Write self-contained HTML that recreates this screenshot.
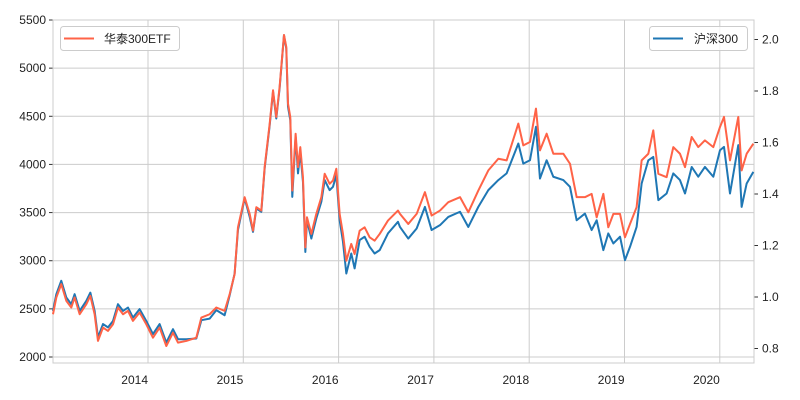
<!DOCTYPE html>
<html><head><meta charset="utf-8"><style>
body{margin:0;background:#fff;width:800px;height:400px;overflow:hidden}
svg{display:block;font-family:"Liberation Sans","Noto Sans CJK SC",sans-serif}
</style></head><body>
<svg id="c" width="800" height="400"></svg>
<script>
const dates=[2013.003,2013.038,2013.090,2013.143,2013.195,2013.230,2013.283,2013.353,2013.395,2013.440,2013.475,2013.528,2013.580,2013.633,2013.685,2013.738,2013.790,2013.842,2013.912,2013.982,2014.052,2014.122,2014.192,2014.262,2014.315,2014.402,2014.507,2014.560,2014.647,2014.717,2014.804,2014.857,2014.909,2014.944,2015.014,2015.067,2015.102,2015.137,2015.189,2015.224,2015.277,2015.312,2015.346,2015.381,2015.427,2015.451,2015.469,2015.493,2015.514,2015.549,2015.574,2015.598,2015.626,2015.651,2015.668,2015.714,2015.766,2015.819,2015.854,2015.906,2015.941,2015.976,2016.011,2016.046,2016.081,2016.133,2016.168,2016.221,2016.273,2016.326,2016.378,2016.431,2016.518,2016.623,
2016.644,2016.731,2016.819,2016.906,2016.976,2017.064,2017.151,2017.274,2017.361,2017.466,2017.571,2017.676,2017.763,2017.886,2017.938,2018.008,2018.071,2018.113,2018.183,2018.253,2018.358,2018.428,2018.498,2018.585,2018.655,2018.708,2018.778,2018.830,2018.883,2018.953,2019.005,2019.058,2019.127,2019.180,2019.250,2019.302,2019.355,2019.442,2019.512,2019.582,2019.635,2019.705,2019.774,2019.844,2019.932,2020.002,2020.044,2020.107,2020.194,2020.229,2020.282,2020.352];
const etf=[2444,2618,2757,2583,2514,2618,2444,2549,2635,2444,2167,2306,2271,2340,2514,2444,2479,2375,2462,2340,2201,2306,2114,2253,2149,2167,2201,2410,2444,2514,2479,2653,2861,3347,3660,3486,3312,3556,3521,3972,4424,4771,4493,4806,5344,5222,4632,4493,3729,4319,3972,4180,3868,3139,3451,3278,3486,3660,3903,3799,3833,3955,3486,3278,3000,3174,3069,3312,3347,3243,3208,3278,3417,3521,
3486,3382,3486,3712,3469,3521,3608,3660,3503,3729,3938,4059,4042,4424,4198,4233,4580,4146,4319,4111,4111,4007,3660,3660,3694,3451,3694,3347,3486,3486,3243,3382,3556,4042,4111,4354,3903,3868,4180,4111,3972,4285,4180,4250,4180,4389,4493,4042,4493,3938,4111,4215];
const hs300=[0.946,1.011,1.063,0.998,0.972,1.011,0.946,0.985,1.017,0.946,0.843,0.895,0.882,0.907,0.972,0.946,0.959,0.920,0.953,0.907,0.856,0.895,0.823,0.875,0.836,0.836,0.839,0.910,0.916,0.949,0.929,1.007,1.091,1.260,1.383,1.311,1.253,1.344,1.331,1.499,1.667,1.797,1.693,1.810,2.017,1.965,1.739,1.687,1.389,1.622,1.480,1.564,1.447,1.175,1.298,1.227,1.305,1.370,1.454,1.415,1.428,1.473,1.298,1.214,1.091,1.169,1.111,1.221,1.234,1.195,1.169,1.182,1.247,1.292,
1.272,1.227,1.266,1.350,1.260,1.279,1.311,1.331,1.272,1.350,1.415,1.454,1.480,1.596,1.518,1.531,1.661,1.460,1.531,1.467,1.454,1.428,1.298,1.324,1.260,1.298,1.182,1.247,1.208,1.234,1.143,1.195,1.272,1.441,1.531,1.544,1.376,1.402,1.480,1.454,1.402,1.505,1.467,1.505,1.467,1.570,1.583,1.402,1.590,1.350,1.441,1.486];
const leftTicks=[2000,2500,3000,3500,4000,4500,5000,5500];
const rightTicks=[0.8,1.0,1.2,1.4,1.6,1.8,2.0];
const yearTicks=[2014,2015,2016,2017,2018,2019,2020];

const L=53,R=754,T=20,B=363;
const x=t=>148+95.3*(t-2014);
const yL=v=>357-(v-2000)*(337/3500);
const yR=v=>297-(v-1)*257.5;
const svg=document.getElementById('c');
const NS='http://www.w3.org/2000/svg';
function mk(tag,a,parent){const e=document.createElementNS(NS,tag);for(const k in a)e.setAttribute(k,a[k]);(parent||svg).appendChild(e);return e;}

leftTicks.forEach(v=>{
  const g=mk('line',{x1:L,x2:R,y1:yL(v),y2:yL(v),stroke:'#cccccc','stroke-width':1});
  
  
  const tk=mk('line',{x1:L-4,x2:L,y1:yL(v),y2:yL(v),stroke:'#333'});
  
  
  const t=mk('text',{x:L-7,y:yL(v)+4,'text-anchor':'end','font-size':12,fill:'#222'});
  t.textContent=v;
  
  
});
yearTicks.forEach(v=>{
  const g=mk('line',{x1:x(v),x2:x(v),y1:T,y2:B,stroke:'#cccccc','stroke-width':1});
  
  
  const t=mk('text',{x:x(v),y:384,'text-anchor':'end','font-size':12,fill:'#222'});
  t.textContent=v;
  
  
});
rightTicks.forEach(v=>{
  const tk=mk('line',{x1:R,x2:R+4,y1:yR(v),y2:yR(v),stroke:'#333'});
  
  
  const t=mk('text',{x:R+8,y:yR(v)+4,'font-size':12,fill:'#222'});
  t.textContent=v.toFixed(1);
  
  
});
const frame=mk('rect',{x:L,y:T,width:R-L,height:B-T,fill:'none',stroke:'#cccccc'});



const pb=mk('polyline',{points:dates.map((d,i)=>x(d)+','+yR(hs300[i])).join(' '),fill:'none',stroke:'#1f77b4','stroke-width':2,'stroke-linejoin':'round'});


const po=mk('polyline',{points:dates.map((d,i)=>x(d)+','+yL(etf[i])).join(' '),fill:'none',stroke:'#ff6347','stroke-width':2,'stroke-linejoin':'round'});



// legends
const lg1=mk('g',{});


mk('rect',{x:60.5,y:26.5,width:119,height:24,rx:3,fill:'#fff','fill-opacity':0.8,stroke:'#ccc'},lg1);
mk('line',{x1:64,x2:94,y1:38.5,y2:38.5,stroke:'#ff6347','stroke-width':2},lg1);
const t1=mk('text',{x:104,y:43,'font-size':12,fill:'#222'},lg1);t1.textContent='华泰300ETF';
const lg2=mk('g',{});


mk('rect',{x:649.5,y:26.5,width:98,height:24,rx:3,fill:'#fff','fill-opacity':0.8,stroke:'#ccc'},lg2);
mk('line',{x1:653,x2:683,y1:38.5,y2:38.5,stroke:'#1f77b4','stroke-width':2},lg2);
const t2=mk('text',{x:694,y:43,'font-size':12,fill:'#222'},lg2);t2.textContent='沪深300';
</script>
</body></html>
